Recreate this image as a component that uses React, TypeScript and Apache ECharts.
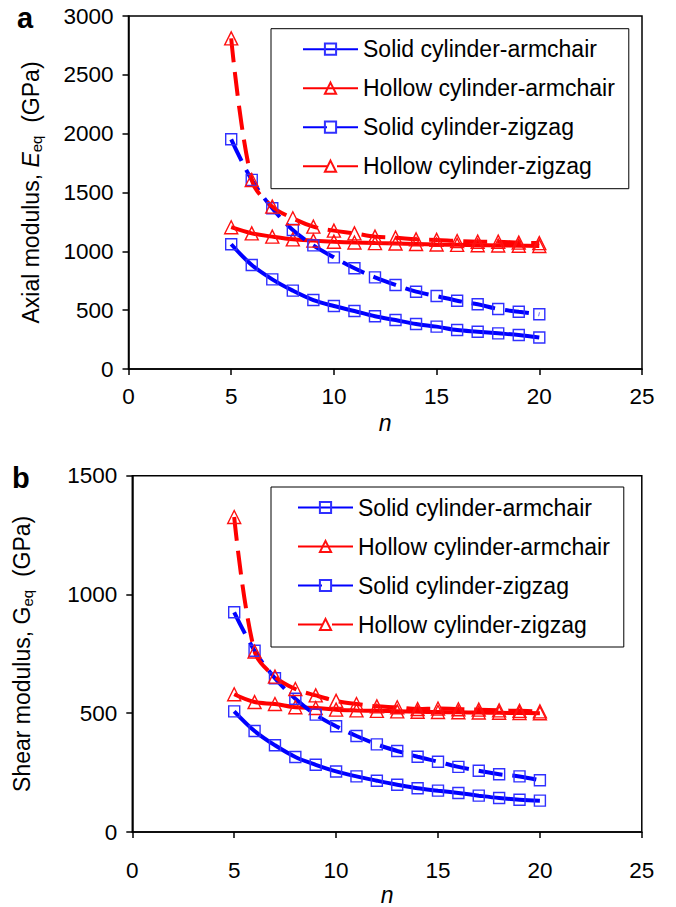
import React, { useEffect, useRef } from "react";
import * as echarts from "echarts";

const nValues = [5, 6, 7, 8, 9, 10, 11, 12, 13, 14, 15, 16, 17, 18, 19, 20];

// Panel a: axial modulus (GPa)
const eSolidArmchair = [1060, 884, 762, 666, 586, 535, 493, 448, 416, 382, 360, 331, 317, 303, 289, 268];
const eHollowArmchair = [1205, 1153, 1125, 1102, 1091, 1082, 1075, 1070, 1066, 1062, 1058, 1055, 1052, 1050, 1048, 1045];
const eSolidZigzag = [1952, 1607, 1366, 1181, 1051, 949, 856, 779, 714, 657, 620, 580, 550, 510, 487, 465];
const eHollowZigzag = [2810, 1606, 1380, 1281, 1210, 1176, 1153, 1125, 1116, 1102, 1097, 1088, 1082, 1082, 1074, 1070];

// Panel b: shear modulus (GPa)
const gSolidArmchair = [508, 425, 365, 316, 283, 255, 234, 216, 199, 184, 174, 164, 153, 143, 136, 132];
const gHollowArmchair = [580, 547, 539, 525, 522, 515, 512, 510, 508, 506, 505, 504, 503, 502, 501, 500];
const gSolidZigzag = [925, 763, 647, 561, 494, 445, 404, 369, 341, 317, 296, 274, 258, 243, 234, 218];
const gHollowZigzag = [1326, 760, 654, 602, 575, 552, 539, 529, 525, 518, 520, 517, 515, 512, 510, 508];

const seriesNames = [
  "Solid cylinder-armchair",
  "Hollow cylinder-armchair",
  "Solid cylinder-zigzag",
  "Hollow cylinder-zigzag",
];

const FONT = "'Liberation Sans', Arial, sans-serif";
const BLUE = "#0000ff";
const RED = "#ff0000";
const BLUE_MK = "#3030ff";
const RED_MK = "#ff1010";

function pairs(vals: number[]) {
  return nValues.map((n, i) => [n, vals[i]]);
}

function makeSeries(name: string, vals: number[], idx: number, isSolid: boolean, dashed: boolean) {
  const color = isSolid ? BLUE : RED;
  return {
    type: "line",
    name,
    xAxisIndex: idx,
    yAxisIndex: idx,
    data: pairs(vals),
    smooth: 0.35,
    symbol: isSolid ? "rect" : "triangle",
    symbolSize: isSolid ? 11 : 13,
    showAllSymbol: true,
    lineStyle: { color, width: 4, type: dashed ? [24, 10] : "solid" },
    itemStyle: {
      color: "rgba(255,255,255,0)",
      borderColor: isSolid ? BLUE_MK : RED_MK,
      borderWidth: 1.4,
    },
    emphasis: { disabled: true },
    z: 2,
  };
}

const axisLineStyle = { color: "#000", width: 1.5 };

function xAxisCfg(gridIndex: number, margin: number, nameGap: number) {
  return {
    type: "value",
    gridIndex,
    min: 0,
    max: 25,
    interval: 5,
    axisLine: { show: true, onZero: false, lineStyle: axisLineStyle },
    axisTick: { show: true, length: 6, lineStyle: axisLineStyle },
    axisLabel: { fontSize: 22.5, color: "#000", fontFamily: FONT, margin },
    splitLine: { show: false },
    name: "n",
    nameLocation: "middle",
    nameGap,
    nameTextStyle: { fontSize: 23, fontStyle: "italic", color: "#000", fontFamily: FONT },
  };
}

function yAxisCfg(gridIndex: number, max: number, interval: number, name: string, nameGap: number) {
  return {
    type: "value",
    gridIndex,
    min: 0,
    max,
    interval,
    axisLine: { show: true, onZero: false, lineStyle: axisLineStyle },
    axisTick: { show: true, length: 6, lineStyle: axisLineStyle },
    axisLabel: {
      fontSize: 22.5,
      color: "#000",
      fontFamily: FONT,
      margin: 15,
      formatter: (v: number) => String(v),
    },
    splitLine: { show: false },
    name,
    nameLocation: "middle",
    nameRotate: 90,
    nameGap,
    nameTextStyle: {
      fontSize: 23,
      color: "#000",
      fontFamily: FONT,
      rich: {
        t: { fontSize: 23, color: "#000", fontFamily: FONT },
        i: { fontSize: 23, color: "#000", fontFamily: FONT, fontStyle: "italic" },
        sub: { fontSize: 15, color: "#000", fontFamily: FONT, verticalAlign: "bottom", padding: [11, 0, 0, 0] },
      },
    },
  };
}

function legendCfg(top: number, padLeft: number) {
  return {
    orient: "vertical",
    left: 271,
    top,
    padding: [8, 14, 10, padLeft],
    itemGap: 14,
    itemWidth: 55,
    itemHeight: 14,
    borderColor: "#000",
    borderWidth: 1,
    backgroundColor: "#fff",
    selectedMode: false,
    textStyle: { fontSize: 23, lineHeight: 25, color: "#000", fontFamily: FONT },
    data: seriesNames,
    z: 10,
  };
}

export default function App() {
  const ref = useRef<HTMLDivElement>(null);
  useEffect(() => {
    if (!ref.current) return;
    const chart = echarts.init(ref.current, undefined, { renderer: "svg" });
    chart.setOption({
      animation: false,
      backgroundColor: "#fff",
      grid: [
        { left: 128.5, top: 16, width: 513.5, height: 353, show: true, borderColor: "#000", borderWidth: 1.5, backgroundColor: "rgba(0,0,0,0)" },
        { left: 132.3, top: 475.7, width: 509.5, height: 359.3, show: true, borderColor: "#000", borderWidth: 1.5, backgroundColor: "rgba(0,0,0,0)" },
      ],
      xAxis: [xAxisCfg(0, 16, 42), xAxisCfg(1, 27, 51)],
      yAxis: [
        yAxisCfg(0, 3000, 500, "{t|Axial modulus, }{i|E}{sub|eq}{t|  (GPa)}", 85),
        yAxisCfg(1, 1500, 500, "{t|Shear modulus, G}{sub|eq}{t|  (GPa)}", 97),
      ],
      legend: [legendCfg(28.7, 31), legendCfg(487, 26)],
      graphic: [
        { type: "text", left: 17, top: 3, style: { text: "a", fontSize: 29, fontWeight: "bold", fill: "#000", fontFamily: FONT } },
        { type: "text", left: 12, top: 463, style: { text: "b", fontSize: 29, fontWeight: "bold", fill: "#000", fontFamily: FONT } },
      ],
      series: [
        makeSeries(seriesNames[0], eSolidArmchair, 0, true, false),
        makeSeries(seriesNames[1], eHollowArmchair, 0, false, false),
        makeSeries(seriesNames[2], eSolidZigzag, 0, true, true),
        makeSeries(seriesNames[3], eHollowZigzag, 0, false, true),
        makeSeries(seriesNames[0], gSolidArmchair, 1, true, false),
        makeSeries(seriesNames[1], gHollowArmchair, 1, false, false),
        makeSeries(seriesNames[2], gSolidZigzag, 1, true, true),
        makeSeries(seriesNames[3], gHollowZigzag, 1, false, true),
      ],
    });
    return () => chart.dispose();
  }, []);
  return (
    <div
      ref={ref}
      style={{ position: "fixed", left: 0, top: 0, width: 676, height: 907, background: "#fff" }}
    />
  );
}
